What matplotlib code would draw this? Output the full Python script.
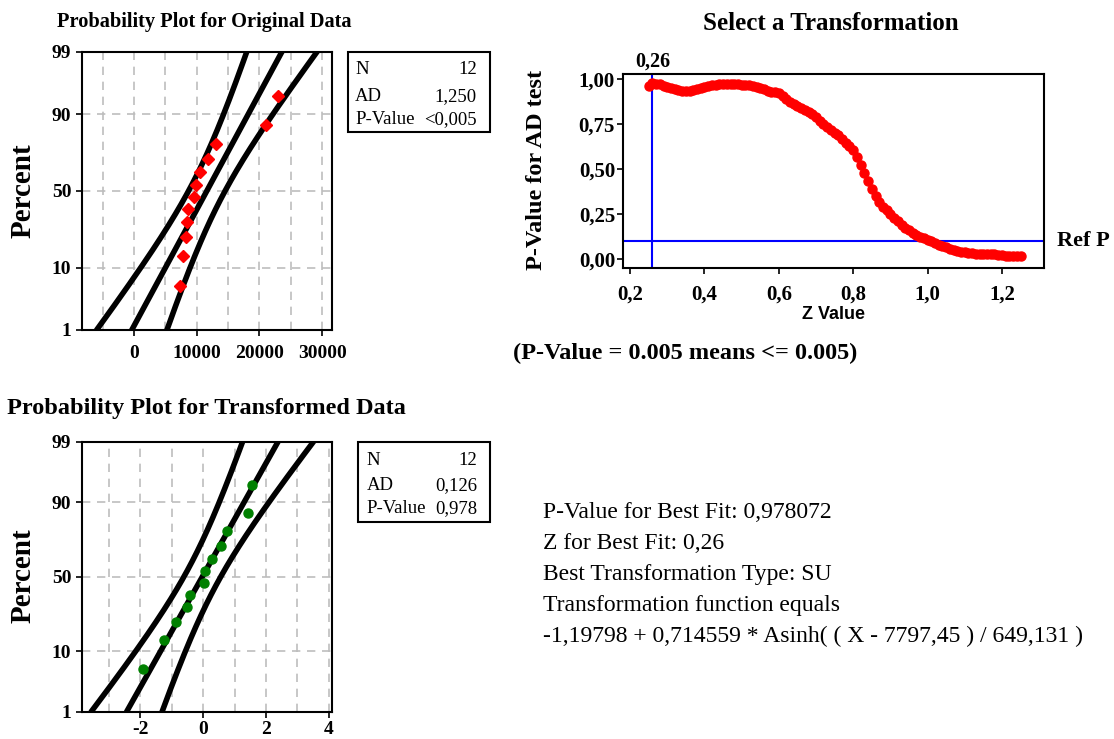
import numpy as np
import matplotlib
matplotlib.use("Agg")
import matplotlib.pyplot as plt
from matplotlib.ticker import FixedLocator, FuncFormatter
from matplotlib.patches import Rectangle
from statistics import NormalDist

# ---------------- data ----------------
original_data = [7340, 7870, 8250, 8500, 8600, 9500, 9900, 10500, 11800, 13100, 21000, 23000]
transformed_data = [-1.92, -1.26, -0.86, -0.53, -0.41, 0.03, 0.05, 0.29, 0.55, 0.76, 1.41, 1.55]
percent_ticks = [1, 10, 50, 90, 99]
orig_xticks = [0, 10000, 20000, 30000]
trans_xticks = [-2, 0, 2, 4]

z_values = [0.25, 0.26, 0.27, 0.28, 0.29, 0.30, 0.31, 0.32, 0.33, 0.34,
            0.35, 0.36, 0.37, 0.38, 0.39, 0.40, 0.41, 0.42, 0.43, 0.44,
            0.45, 0.46, 0.47, 0.48, 0.49, 0.50, 0.51, 0.52, 0.53, 0.54,
            0.55, 0.56, 0.57, 0.58, 0.59, 0.60, 0.61, 0.62, 0.63, 0.64,
            0.65, 0.66, 0.67, 0.68, 0.69, 0.70, 0.71, 0.72, 0.73, 0.74,
            0.75, 0.76, 0.77, 0.78, 0.79, 0.80, 0.81, 0.82, 0.83, 0.84,
            0.85, 0.86, 0.87, 0.88, 0.89, 0.90, 0.91, 0.92, 0.93, 0.94,
            0.95, 0.96, 0.97, 0.98, 0.99, 1.00, 1.01, 1.02, 1.03, 1.04,
            1.05, 1.06, 1.07, 1.08, 1.09, 1.10, 1.11, 1.12, 1.13, 1.14,
            1.15, 1.16, 1.17, 1.18, 1.19, 1.20, 1.21, 1.22, 1.23, 1.24, 1.25]
p_values = [0.962, 0.978, 0.975, 0.972, 0.965, 0.958, 0.950, 0.944, 0.939, 0.937,
            0.937, 0.937, 0.939, 0.945, 0.952, 0.958, 0.962, 0.966, 0.969, 0.972,
            0.974, 0.975, 0.975, 0.974, 0.972, 0.970, 0.968, 0.966, 0.962, 0.957,
            0.951, 0.944, 0.936, 0.930, 0.927, 0.922, 0.905, 0.888, 0.872, 0.860,
            0.849, 0.839, 0.829, 0.818, 0.805, 0.788, 0.770, 0.752, 0.735, 0.718,
            0.703, 0.688, 0.668, 0.648, 0.628, 0.605, 0.570, 0.525, 0.480, 0.435,
            0.390, 0.350, 0.318, 0.293, 0.272, 0.253, 0.232, 0.210, 0.190, 0.175,
            0.160, 0.147, 0.136, 0.126, 0.117, 0.108, 0.099, 0.090, 0.081, 0.074,
            0.066, 0.058, 0.052, 0.047, 0.042, 0.038, 0.035, 0.033, 0.031, 0.030,
            0.030, 0.030, 0.029, 0.028, 0.025, 0.022, 0.021, 0.021, 0.021, 0.021, 0.021]
best_z = 0.26
ref_p = 0.10

stats_orig = [("N", "12"), ("AD", "1,250"), ("P-Value", "<0,005")]
stats_trans = [("N", "12"), ("AD", "0,126"), ("P-Value", "0,978")]
summary_lines = ["P-Value for Best Fit: 0,978072",
                 "Z for Best Fit: 0,26",
                 "Best Transformation Type: SU",
                 "Transformation function equals",
                 "-1,19798 + 0,714559 * Asinh( ( X - 7797,45 ) / 649,131 )"]

# ---------------- figure ----------------
W, H = 1114, 739
fig = plt.figure(figsize=(W / 100, H / 100), dpi=100)
SERIF = "Liberation Serif"
SANS = "Liberation Sans"
nd = NormalDist()


def ax_px(l, t, r, b):
    return fig.add_axes([l / W, 1 - b / H, (r - l) / W, (b - t) / H])


def comma(fmt):
    return FuncFormatter(lambda v, pos: (fmt % v).replace(".", ","))


def prob_plot(ax, data, xlim, xticks, grid_step, marker, mcolor, ms, xpad):
    data = np.sort(np.asarray(data, dtype=float))
    n = len(data)
    ranks = np.arange(1, n + 1)
    pct = (ranks - 0.3) / (n + 0.4)
    zq = np.array([nd.inv_cdf(p) for p in pct])
    mu = data.mean()
    s = data.std(ddof=1)
    zlo, zhi = nd.inv_cdf(0.01), nd.inv_cdf(0.99)
    zz = np.linspace(zlo, zhi, 200)
    center = mu + zz * s
    half = 1.96 * s * np.sqrt(1.0 / n + zz ** 2 / (2 * n))
    gx = np.arange(np.ceil(xlim[0] / grid_step) * grid_step, xlim[1], grid_step)
    for g in gx:
        ax.axvline(g, color="#bdbdbd", lw=1.2, ls=(0, (5, 4)), zorder=0)
    for p in [10, 50, 90]:
        ax.axhline(nd.inv_cdf(p / 100), color="#bdbdbd", lw=1.2, ls=(0, (5, 4)), zorder=0)
    for curve in (center - half, center, center + half):
        ax.plot(curve, zz, color="black", lw=4, solid_capstyle="round", zorder=2)
    ax.plot(data, zq, ls="none", marker=marker, color=mcolor, ms=ms, mec=mcolor, zorder=3)
    ax.set_xlim(*xlim)
    ax.set_ylim(zlo, zhi)
    ax.yaxis.set_major_locator(FixedLocator([nd.inv_cdf(p / 100) for p in percent_ticks]))
    ax.set_yticklabels([str(p) for p in percent_ticks])
    ax.xaxis.set_major_locator(FixedLocator(xticks))
    ax.set_xticklabels([str(t) for t in xticks])
    ax.tick_params(direction="out", length=4, width=1.2)
    ax.tick_params(axis="y", pad=3.5)
    ax.tick_params(axis="x", pad=xpad)
    for lab in ax.get_xticklabels() + ax.get_yticklabels():
        lab.set_fontfamily(SERIF)
        lab.set_fontweight("bold")
        lab.set_fontsize(14)
    for sp in ax.spines.values():
        sp.set_linewidth(1.5)


def stats_box(l, t, r, b, rows, ys, xl, xr):
    fig.patches.append(Rectangle((l / W, 1 - b / H), (r - l) / W, (b - t) / H,
                                 transform=fig.transFigure, fill=False, lw=1.5,
                                 ec="black"))
    for (k, v), y in zip(rows, ys):
        fig.text(xl / W, 1 - y / H, k, fontfamily=SERIF, fontsize=13.5, va="center", ha="left")
        fig.text(xr / W, 1 - y / H, v, fontfamily=SERIF, fontsize=13.5, va="center", ha="right")


# --- top-left: original data
ax1 = ax_px(81.7, 51.7, 332.3, 330)
prob_plot(ax1, original_data, (-8330, 31600), orig_xticks, 5000, "D", "red", 6.5, 6.5)
fig.text(23 / W, 1 - 191 / H, "Percent", fontfamily=SERIF, fontweight="bold", fontsize=21,
         rotation=90, ha="center", va="center")
fig.text(57 / W, 1 - 22 / H, "Probability Plot for Original Data", fontfamily=SERIF,
         fontweight="bold", fontsize=14.7, va="center", ha="left")
stats_box(348, 51.7, 490, 131.7, stats_orig, [70, 96.7, 120], 355, 477)

# --- bottom-left: transformed data
ax3 = ax_px(81.7, 441.7, 332.3, 711.7)
prob_plot(ax3, transformed_data, (-3.87, 4.11), trans_xticks, 1, "o", "green", 6.5, 3)
fig.text(23 / W, 1 - 576 / H, "Percent", fontfamily=SERIF, fontweight="bold", fontsize=21,
         rotation=90, ha="center", va="center")
fig.text(7 / W, 1 - 408 / H, "Probability Plot for Transformed Data", fontfamily=SERIF,
         fontweight="bold", fontsize=17.5, va="center", ha="left")
stats_box(358, 441.7, 490, 521.7, stats_trans, [460.7, 486, 508.3], 366.7, 477)

# --- top-right: select transformation
ax2 = ax_px(622.7, 74, 1044.3, 268.3)
ax2.plot(z_values, p_values, ls="none", marker="o", color="red", ms=6.5, mec="red", zorder=3)
ax2.axvline(best_z, color="blue", lw=1.5, zorder=2)
ax2.axhline(ref_p, color="blue", lw=1.5, zorder=2)
ax2.set_xlim(0.18, 1.314)
ax2.set_ylim(-0.05, 1.029)
ax2.xaxis.set_major_locator(FixedLocator([0.2, 0.4, 0.6, 0.8, 1.0, 1.2]))
ax2.yaxis.set_major_locator(FixedLocator([0.0, 0.25, 0.5, 0.75, 1.0]))
ax2.xaxis.set_major_formatter(comma("%.1f"))
ax2.yaxis.set_major_formatter(comma("%.2f"))
ax2.tick_params(direction="out", length=4.5, width=1.2)
ax2.tick_params(axis="x", pad=7)
ax2.tick_params(axis="y", pad=1)
for lab in ax2.get_xticklabels() + ax2.get_yticklabels():
    lab.set_fontfamily(SERIF)
    lab.set_fontweight("bold")
    lab.set_fontsize(15)
for sp in ax2.spines.values():
    sp.set_linewidth(1.5)
ax2.set_xlabel("Z Value", fontfamily=SANS, fontweight="bold", fontsize=13, labelpad=1)
fig.text(537 / W, 1 - 170 / H, "P-Value for AD test", fontfamily=SERIF, fontweight="bold",
         fontsize=17.5, rotation=90, ha="center", va="center")
ax2.text(best_z, 1.04, ("%.2f" % best_z).replace(".", ","), fontfamily=SERIF, fontweight="bold",
         fontsize=14.5, ha="center", va="bottom", transform=ax2.transData, clip_on=False)
ax2.text(1.0 + 13 / 421.6, ref_p, "Ref P", fontfamily=SERIF, fontweight="bold", fontsize=16,
         ha="left", va="center", transform=ax2.get_yaxis_transform(), clip_on=False)
fig.text(830.5 / W, 1 - 24 / H, "Select a Transformation", fontfamily=SERIF, fontweight="bold",
         fontsize=18, ha="center", va="center")
fig.text(513 / W, 1 - 353 / H, "(P-Value = 0.005 means <= 0.005)", fontfamily=SERIF,
         fontweight="bold", fontsize=17.5, ha="left", va="center")

# --- summary text
for i, line in enumerate(summary_lines):
    fig.text(543 / W, 1 - (512 + i * 31.2) / H, line, fontfamily=SERIF, fontsize=17,
             ha="left", va="center")

fig.savefig("out.png", dpi=100)
